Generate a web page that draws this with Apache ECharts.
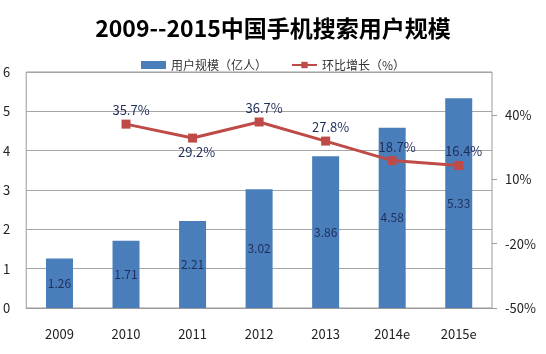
<!DOCTYPE html>
<html>
<head>
<meta charset="utf-8">
<script src="https://cdn.jsdelivr.net/npm/echarts@6/dist/echarts.min.js"></script>
<style>
  html, body { margin: 0; padding: 0; background: #fff; }
  #chart { width: 546px; height: 354px; }
</style>
</head>
<body>
<div id="chart"></div>
<script>
// data
const years = ["2009", "2010", "2011", "2012", "2013", "2014e", "2015e"];
const users = [1.26, 1.71, 2.21, 3.02, 3.86, 4.58, 5.33];
const growth = [null, 35.7, 29.2, 36.7, 27.8, 18.7, 16.4];
const rightTicks = [-50, -20, 10, 40];

const font = "'Noto Sans CJK SC', 'DejaVu Sans', sans-serif";
const labelColor = "#1f2d5a";

// 29.2% sits under its marker in the original, the rest above
const growthData = growth.map((v, i) =>
  i === 2 ? { value: v, label: { position: "bottom", offset: [4, 0] } } : v
);

const myChart = echarts.init(document.getElementById("chart"), null, {
  width: 546,
  height: 354,
});

myChart.setOption({
  animation: false,
  title: {
    text: "2009--2015中国手机搜索用户规模",
    left: "center",
    top: 12,
    textStyle: {
      fontFamily: font,
      fontSize: 23,
      fontWeight: "bold",
      color: "#000",
    },
  },
  legend: {
    top: 54,
    left: "center",
    itemWidth: 25,
    itemHeight: 8,
    itemGap: 24,
    textStyle: { fontFamily: font, fontSize: 12, color: "#333" },
    data: [
      { name: "用户规模（亿人）", icon: "rect" },
      { name: "环比增长（%）" },
    ],
  },
  grid: {
    left: 26,
    right: 54,
    top: 72,
    bottom: 46,
    show: true,
    borderColor: "#9a9a9a",
    borderWidth: 1,
  },
  xAxis: {
    type: "category",
    data: years,
    axisTick: { show: false },
    axisLine: { lineStyle: { color: "#9a9a9a" } },
    axisLabel: {
      margin: 20,
      fontFamily: font,
      fontSize: 13,
      color: "#222",
    },
  },
  yAxis: [
    {
      type: "value",
      min: 0,
      max: 6,
      interval: 1,
      axisLine: { show: false },
      axisTick: { show: false },
      splitLine: { lineStyle: { color: "#a6a6a6" } },
      axisLabel: { margin: 16, fontFamily: font, fontSize: 13, color: "#222" },
    },
    {
      type: "value",
      min: -50,
      max: 60,
      interval: 30,
      position: "right",
      axisLine: { show: false },
      splitLine: { show: false },
      axisTick: {
        show: true,
        length: 5,
        customValues: rightTicks,
        lineStyle: { color: "#9a9a9a" },
      },
      axisLabel: {
        margin: 13,
        customValues: rightTicks,
        formatter: "{value}%",
        fontFamily: font,
        fontSize: 13,
        color: "#222",
      },
    },
  ],
  series: [
    {
      name: "用户规模（亿人）",
      type: "bar",
      data: users,
      barWidth: 27,
      itemStyle: { color: "#4a7ebb" },
      label: {
        show: true,
        position: "inside",
        fontFamily: font,
        fontSize: 12,
        color: labelColor,
      },
    },
    {
      name: "环比增长（%）",
      type: "line",
      yAxisIndex: 1,
      data: growthData,
      symbol: "rect",
      symbolSize: 9,
      lineStyle: { color: "#be4b48", width: 3 },
      itemStyle: { color: "#be4b48" },
      label: {
        show: true,
        position: "top",
        distance: 3,
        offset: [5, 0],
        formatter: "{c}%",
        fontFamily: font,
        fontSize: 13,
        color: labelColor,
      },
    },
  ],
});
</script>
</body>
</html>
